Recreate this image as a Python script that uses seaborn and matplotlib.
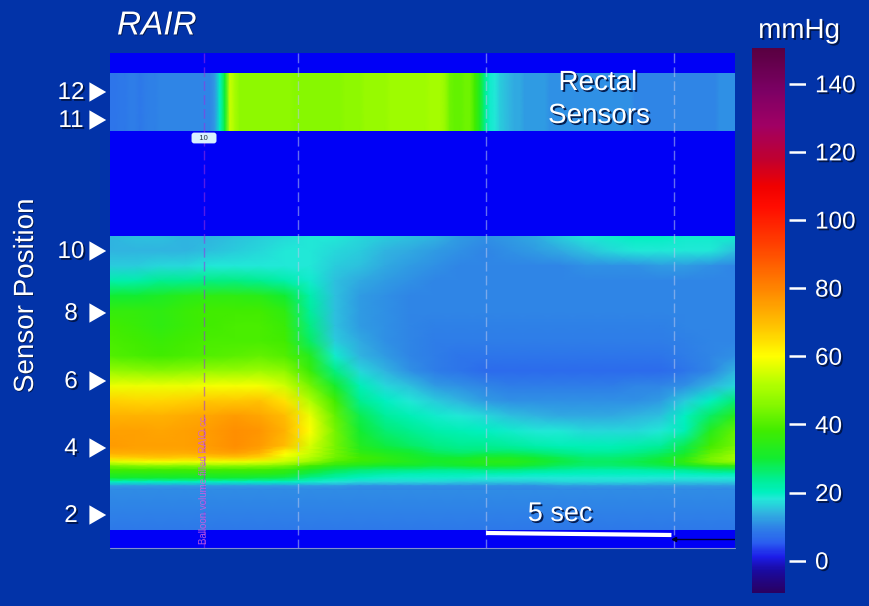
import numpy as np
import matplotlib
matplotlib.use("Agg")
import matplotlib.pyplot as plt
import matplotlib.patheffects as pe
from matplotlib.colors import LinearSegmentedColormap
import seaborn as sns

W, H = 869, 606
BG = '#0233A8'
BAND = '#0000F6'

# colour bar
cbar_ticks = [0, 20, 40, 60, 80, 100, 120, 140]
vmin, vmax = -9.5, 150.5
cmap_values = [-9.5, -3, 1, 5, 10, 14, 18, 20, 24, 30, 38, 46, 52, 60, 68, 80, 92, 104, 110, 118, 128, 138, 150.5]
cmap_colors = ['#2A0060', '#1A0AA0', '#1C1CE8', '#2A5CF0', '#2F86E6', '#30B4E0', '#22E8D8', '#00F0C0',
               '#00EE90', '#12EC30', '#40EC00', '#88F800', '#B4FF00', '#FFFF00', '#FFC800', '#FF8400',
               '#FF4400', '#FF0C00', '#F00000', '#C00030', '#A00064', '#7C0064', '#580040']

# rectal sensors 11/12, one value every 5 px along time
rectal_row = [8, 8, 8.5, 8.5, 9, 9, 8.5, 9, 9.5, 9.5, 10, 10, 10, 10, 10, 10, 10, 10, 10, 10, 10,
              12, 20, 30, 54, 50,
              47, 47, 47, 47, 47, 47, 47, 47, 47, 47, 47, 46, 46, 46, 46, 46, 46, 46, 46, 46,
              46, 47, 47, 47, 47, 48, 48, 48, 48, 48, 49, 49, 49, 49, 49, 49, 49, 49, 50, 50, 50,
              48, 43, 42, 42, 43, 43,
              38, 32, 24, 19, 18, 16, 15, 14, 13, 13,
              12, 12, 12, 12, 12, 11, 11, 11, 11, 11, 11, 11, 11, 11, 11, 11, 11, 11, 11, 11,
              11, 11, 10, 10, 10, 10, 10, 10, 10, 10, 10, 10, 10, 10, 10, 10, 10, 10, 10, 11,
              11, 11, 11]

# upper anal canal, rows from top down, 26 samples along time
upper_rows = [
    [14, 15, 15, 14, 14, 15, 16, 17, 18, 18, 17, 16, 15, 14, 12, 11, 12, 13, 16, 18, 19, 20, 20, 19, 19, 19],
    [14, 14, 14, 14, 15, 16, 17, 18, 18, 17, 16, 14, 13, 12, 11, 10, 11, 12, 13, 15, 17, 18, 18, 18, 18, 15],
    [16, 16, 17, 17, 18, 18, 18, 18, 18, 16, 15, 13, 12, 11, 10, 10, 10, 10, 10, 11, 11, 11, 12, 12, 11, 10],
    [22, 22, 24, 24, 25, 25, 24, 22, 19, 15, 13, 12, 11, 10, 10, 10, 10, 10, 10, 10, 10, 10, 10, 10, 10, 10],
    [30, 30, 32, 34, 35, 35, 34, 30, 22, 15, 12, 11, 10, 10, 10, 10, 10, 10, 10, 10, 10, 10, 10, 10, 10, 10],
    [36, 36, 35, 37, 38, 38, 38, 35, 23, 15, 12, 11, 10, 10, 10, 10, 10, 10, 10, 10, 10, 10, 10, 10, 10, 10],
    [38, 37, 35, 37, 38, 39, 39, 37, 25, 15, 12, 11, 10, 9.5, 9.5, 9.5, 9.5, 9.5, 9.5, 9.5, 9.5, 9.5, 9.5, 10, 10, 10],
    [39, 38, 37, 38, 39, 39, 39, 38, 27, 16, 13, 11, 10, 9, 9, 9, 9, 9, 9, 9, 9, 9, 9, 9.5, 10, 10],
    [40, 39, 38, 39, 40, 41, 42, 40, 33, 19, 14, 12, 10, 9, 8, 8, 8, 8, 8, 8, 8, 8, 8, 9, 10, 11],
    [48, 47, 46, 47, 48, 48, 49, 47, 37, 25, 17, 14, 11, 9, 8, 7, 7, 7, 7, 7, 7, 7, 7, 8, 10, 14],
    [58, 58, 58, 58, 59, 59, 59, 55, 44, 31, 21, 17, 15, 12, 11, 10, 9, 9, 9, 9, 9, 10, 10, 11, 14, 17],
    [67, 66, 66, 67, 68, 68, 69, 64, 52, 38, 24, 20, 18, 16, 14, 12, 11, 11, 11, 11, 11, 11, 12, 16, 20, 26],
    [72, 72, 72, 73, 74, 76, 74, 70, 58, 42, 28, 23, 21, 19, 18, 17, 15, 14, 13, 13, 13, 14, 15, 20, 27, 34],
    [75, 75, 74, 75, 76, 78, 77, 72, 60, 44, 30, 26, 24, 22, 21, 20, 19, 18, 18, 17, 17, 17, 18, 21, 33, 42],
    [76, 75, 75, 75, 76, 78, 76, 70, 56, 44, 33, 29, 27, 25, 24, 24, 23, 22, 21, 21, 21, 22, 23, 28, 38, 44],
]

# ridge above the anal verge, each list one time sample, top down
ridge_cols = [
    [76, 74, 72, 66, 56, 44, 38, 34, 30, 20, 12, 10],
    [75, 74, 72, 67, 58, 46, 38, 34, 30, 20, 12, 10],
    [75, 74, 72, 68, 59, 47, 38, 34, 30, 20, 12, 10],
    [75, 74, 72, 67, 58, 46, 38, 34, 30, 20, 12, 10],
    [76, 75, 73, 67, 58, 47, 38, 34, 30, 20, 12, 10],
    [78, 77, 74, 68, 58, 47, 38, 34, 30, 20, 12, 10],
    [76, 74, 71, 66, 57, 46, 38, 34, 29, 20, 12, 10],
    [70, 64, 60, 57, 54, 44, 36, 33, 28, 20, 12, 10],
    [56, 55, 54, 52, 48, 38, 32, 28, 24, 19, 12, 10],
    [44, 44, 44, 43, 40, 34, 28, 25, 22, 18, 12, 10],
    [33, 34, 36, 38, 37, 32, 26, 23, 20, 17, 11, 10],
    [29, 31, 33, 35, 35, 30, 25, 22, 19, 17, 11, 10],
    [27, 29, 31, 32, 33, 30, 25, 21, 19, 17, 11, 10],
    [25, 26, 28, 30, 31, 29, 24, 21, 19, 17, 11, 10],
    [24, 25, 27, 30, 32, 30, 24, 21, 19, 16, 11, 10],
    [24, 25, 28, 32, 34, 31, 25, 21, 18, 16, 11, 10],
    [23, 25, 28, 32, 34, 31, 25, 21, 18, 16, 11, 10],
    [22, 24, 27, 30, 32, 29, 24, 20, 18, 16, 11, 10],
    [21, 23, 25, 28, 29, 27, 23, 20, 18, 17, 12, 10],
    [21, 22, 24, 26, 27, 26, 22, 20, 18, 17, 12, 10],
    [21, 22, 24, 26, 27, 26, 22, 20, 18, 17, 12, 10],
    [22, 23, 25, 27, 28, 27, 22, 20, 18, 17, 12, 10],
    [23, 25, 27, 29, 30, 28, 23, 20, 18, 16, 12, 10],
    [28, 29, 31, 34, 36, 30, 24, 20, 18, 16, 12, 10],
    [38, 40, 42, 44, 44, 34, 26, 21, 18, 16, 12, 10],
    [44, 46, 48, 50, 48, 36, 27, 21, 18, 16, 12, 10],
]

# lowest sensors, down to the verge
verge_rows = [
    [10.5, 10.5, 10.5, 10.5, 10.5, 10.5, 10.5, 10.5, 10.5, 10.5, 10.5, 10.5, 10.5,
     10.5, 10.5, 10.5, 10.5, 10.5, 10.5, 10.5, 10.5, 10.5, 10.5, 10.5, 10.5, 10.5],
    [8.5, 8.5, 8.5, 8.5, 8.5, 8.5, 8.5, 8.5, 8.5, 8.5, 8.5, 8.5, 8.5,
     8.5, 8.5, 8.5, 8.5, 8.5, 8.5, 8.5, 8.5, 8.5, 8.5, 8.5, 8.5, 8.5],
]

sensor_labels = ['12', '11', '10', '8', '6', '4', '2']
sensor_ypx = [92, 120, 251, 313, 381, 448, 515]
event_times = [2.5, 5.0, 10.0, 15.0]
event_colors = ['#9A30E0', '#B8C8F0', '#B8C8F0', '#B8C8F0']
duration = 16.62


def box(x0, y0, x1, y1):
    # pixel box (y from top) to figure fractions
    return [x0 / W, 1 - y1 / H, (x1 - x0) / W, (y1 - y0) / H]


def shadow(offset=1.3):
    return [pe.withSimplePatchShadow(offset=(offset, -offset), shadow_rgbFace='#001240', alpha=0.9)]


sns.set_theme(style="white")
plt.rcParams['font.family'] = ['Liberation Sans', 'DejaVu Sans']

cmap = LinearSegmentedColormap.from_list(
    'manometry', [((v - vmin) / (vmax - vmin), c) for v, c in zip(cmap_values, cmap_colors)], N=512)

fig = plt.figure(figsize=(W / 100, H / 100), dpi=100, facecolor=BG)

band_ax = fig.add_axes(box(110, 53, 735, 548), facecolor=BAND)
band_ax.set_xticks([])
band_ax.set_yticks([])
for s in band_ax.spines.values():
    s.set_visible(False)

cbar_ax = fig.add_axes(box(752, 48, 785, 593))
panels = [
    (np.array([rectal_row, rectal_row]), (110, 73, 735, 131)),
    (np.array(upper_rows), (110, 236, 735, 446)),
    (np.array(ridge_cols).T, (110, 446, 735, 490)),
    (np.array(verge_rows), (110, 490, 735, 530)),
]
for i, (values, px) in enumerate(panels):
    ax = fig.add_axes(box(*px))
    sns.heatmap(values, ax=ax, cmap=cmap, vmin=vmin, vmax=vmax, shading='gouraud',
                xticklabels=False, yticklabels=False,
                cbar=i == 0, cbar_ax=cbar_ax if i == 0 else None)
    ax.set_xlim(0, values.shape[1] - 1)
    ax.set_ylim(values.shape[0] - 1, 0)
    ax.set_xlabel('')
    ax.set_ylabel('')

cbar_ax.set_yticks([])
for s in cbar_ax.spines.values():
    s.set_visible(False)

# colour bar ticks stand off from the bar
tick_ax = fig.add_axes(box(789, 48, 806, 593), facecolor='none')
tick_ax.set_xlim(0, 1)
tick_ax.set_ylim(vmin, vmax)
tick_ax.hlines(cbar_ticks, 0, 1, color='white', lw=1.8)
tick_ax.yaxis.tick_right()
tick_ax.set_yticks(cbar_ticks)
tick_ax.set_yticklabels([str(t) for t in cbar_ticks], color='white', fontsize=17.5, path_effects=shadow())
tick_ax.tick_params(axis='y', length=0, pad=6.5)
tick_ax.set_xticks([])
for s in tick_ax.spines.values():
    s.set_visible(False)

# time overlay
time_ax = fig.add_axes(box(110, 53, 735, 548), facecolor='none')
time_ax.set_xlim(0, duration)
time_ax.set_ylim(548, 53)
time_ax.set_xticks([])
time_ax.set_yticks([])
for s in time_ax.spines.values():
    s.set_visible(False)
for t, c in zip(event_times, event_colors):
    time_ax.vlines(t, 53, 548, color=c, lw=1.0, alpha=0.55, linestyles=(0, (7, 3)))
time_ax.plot([10.0, 14.93], [533, 535], color='white', lw=3, solid_capstyle='butt')
time_ax.plot([15.0, duration], [539, 539], color='#000030', lw=1)
time_ax.plot([15.0], [539], marker='<', ms=3, color='#000030')
time_ax.text(2.5, 480, 'Balloon volume filled RAIO cc', rotation=90, ha='center', va='center',
             fontsize=7, color='#D060E0', alpha=0.85)
time_ax.text(2.5, 138, '   10   ', ha='center', va='center', fontsize=5.5, color='#203040',
             bbox=dict(boxstyle='round,pad=0.25,rounding_size=0.35', fc='#D8F0FF', ec='none'))
time_ax.text(12.97, 83, 'Rectal', ha='center', va='center', color='white', fontsize=20, path_effects=shadow())
time_ax.text(13.0, 116, 'Sensors', ha='center', va='center', color='white', fontsize=20, path_effects=shadow())
time_ax.text(11.97, 514, '5 sec', ha='center', va='center', color='white', fontsize=19.5, path_effects=shadow())
time_ax.plot([0, duration], [548, 548], color='#8090D0', lw=0.8, clip_on=False)

# sensor markers and headings, in pixels
ann = fig.add_axes([0, 0, 1, 1], facecolor='none')
ann.set_xlim(0, W)
ann.set_ylim(H, 0)
ann.axis('off')
sns.scatterplot(x=[95] * len(sensor_ypx), y=sensor_ypx, ax=ann, marker=(3, 0, -90), s=260,
                color='white', edgecolor='none', legend=False)
for lab, y in zip(sensor_labels, sensor_ypx):
    ann.text(71, y + 1, lab, ha='center', va='center', color='white', fontsize=17.5, path_effects=shadow())
ann.text(117, 26, 'RAIR', ha='left', va='center', color='white', fontsize=24, style='italic', path_effects=shadow(0.6))
ann.text(799, 31, 'mmHg', ha='center', va='center', color='white', fontsize=20, path_effects=shadow())
ann.text(26, 296, 'Sensor Position', rotation=90, ha='center', va='center', color='white', fontsize=20,
         path_effects=shadow(0.6))

fig.savefig('out.png', dpi=100, facecolor=BG)
